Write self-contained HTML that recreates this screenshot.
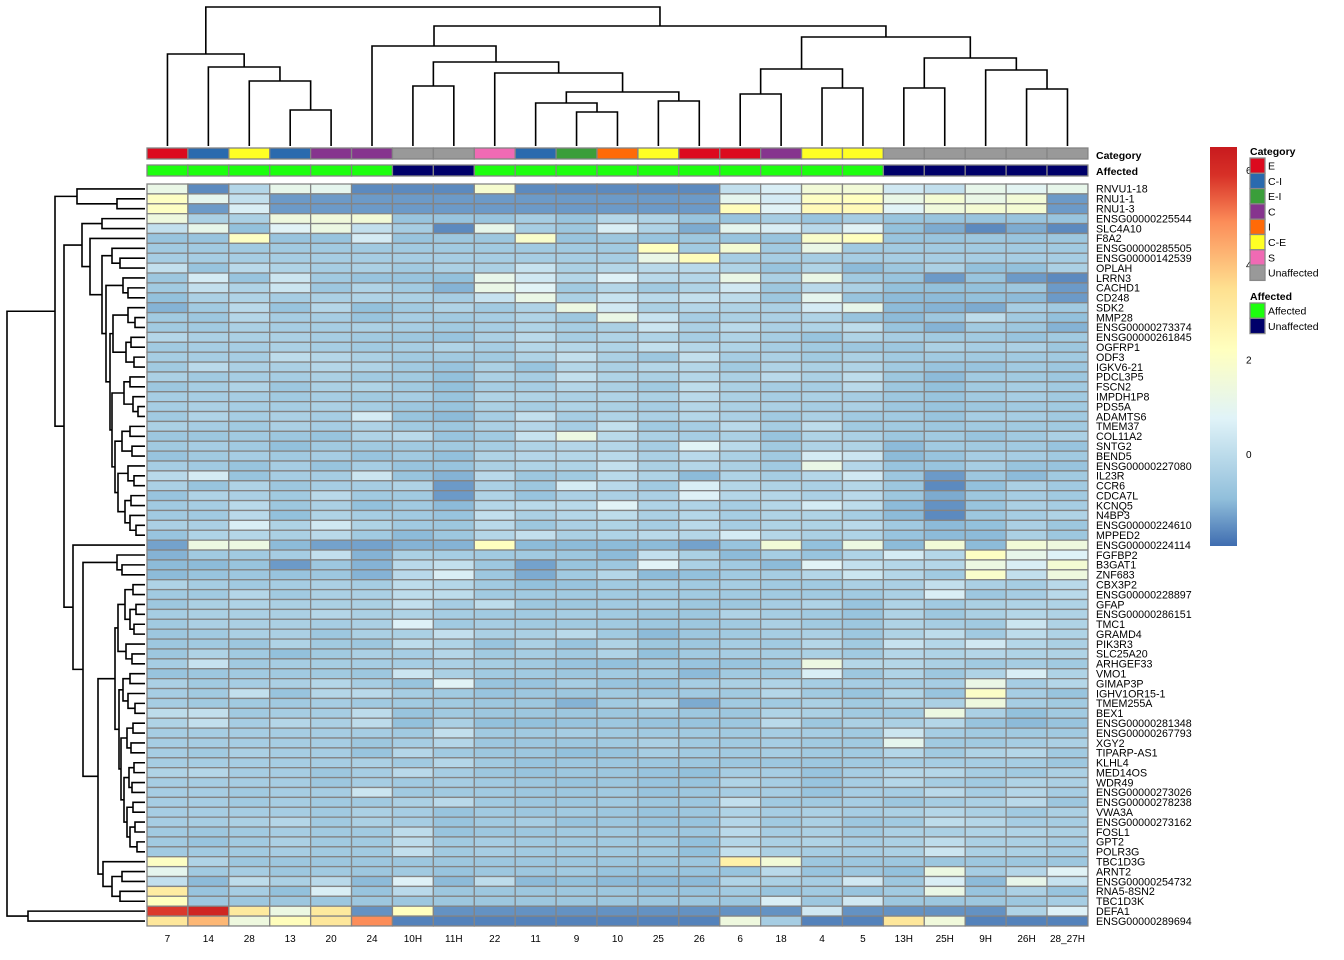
<!DOCTYPE html>
<html><head><meta charset="utf-8"><style>
body{margin:0;background:#fff;}
svg{display:block;font-family:"Liberation Sans",Arial,sans-serif;}
</style></head><body>
<svg id="chart" width="1344" height="960" viewBox="0 0 1344 960" xmlns="http://www.w3.org/2000/svg">
<g id="coldend"></g>
<g id="rowdend"></g>
<g id="annot"></g>
<g id="cells"></g>
<g id="rlabels"></g>
<g id="clabels"></g>
<g id="legend"></g>
</svg>
<script>
const samples = ["7","14","28","13","20","24","10H","11H","22","11","9","10","25","26","6","18","4","5","13H","25H","9H","26H","28_27H"];
const genes = ["RNVU1-18","RNU1-1","RNU1-3","ENSG00000225544","SLC4A10","F8A2","ENSG00000285505","ENSG00000142539","OPLAH","LRRN3","CACHD1","CD248","SDK2","MMP28","ENSG00000273374","ENSG00000261845","OGFRP1","ODF3","IGKV6-21","PDCL3P5","FSCN2","IMPDH1P8","PDS5A","ADAMTS6","TMEM37","COL11A2","SNTG2","BEND5","ENSG00000227080","IL23R","CCR6","CDCA7L","KCNQ5","N4BP3","ENSG00000224610","MPPED2","ENSG00000224114","FGFBP2","B3GAT1","ZNF683","CBX3P2","ENSG00000228897","GFAP","ENSG00000286151","TMC1","GRAMD4","PIK3R3","SLC25A20","ARHGEF33","VMO1","GIMAP3P","IGHV1OR15-1","TMEM255A","BEX1","ENSG00000281348","ENSG00000267793","XGY2","TIPARP-AS1","KLHL4","MED14OS","WDR49","ENSG00000273026","ENSG00000278238","VWA3A","ENSG00000273162","FOSL1","GPT2","POLR3G","TBC1D3G","ARNT2","ENSG00000254732","RNA5-8SN2","TBC1D3K","DEFA1","ENSG00000289694"];
const sampleCategory = ["E","C-I","C-E","C-I","C","C","Unaffected","Unaffected","S","C-I","E-I","I","C-E","E","E","C","C-E","C-E","Unaffected","Unaffected","Unaffected","Unaffected","Unaffected"];
const sampleAffected = ["Affected","Affected","Affected","Affected","Affected","Affected","Unaffected","Unaffected","Affected","Affected","Affected","Affected","Affected","Affected","Affected","Affected","Affected","Affected","Unaffected","Unaffected","Unaffected","Unaffected","Unaffected"];
const values = [
[1.2,-1.6,-0.2,1.1,1.0,-1.6,-1.6,-1.6,1.8,-1.6,-1.6,-1.6,-1.6,-1.6,0.1,0.6,1.6,1.6,0.4,0.1,1.1,0.9,1.1],
[2.1,1.0,0.1,-1.4,-1.4,-1.4,-1.4,-1.4,-1.4,-1.4,-1.4,-1.4,-1.4,-1.4,1.0,0.5,2.1,2.2,1.2,1.7,1.2,1.6,-1.4],
[2.1,-1.4,0.6,-1.4,-1.4,-1.4,-1.4,-1.4,-1.4,-1.4,-1.4,-1.4,-1.4,-1.4,2.3,0.8,2.4,2.4,0.8,1.5,1.7,1.7,-1.4],
[1.4,-0.4,-0.4,1.4,1.5,1.6,-0.8,-0.8,-0.8,-0.5,-0.8,-0.2,-0.3,-0.8,-0.8,-0.5,-0.8,-0.5,-0.8,-0.8,-0.8,-0.8,-0.8],
[0.1,1.1,-0.9,0.8,1.3,0.1,-0.5,-1.6,1.1,-0.5,-0.7,0.6,-0.3,-1.2,1.0,0.6,-0.1,0.8,-0.9,-1.2,-1.6,-1.2,-1.6],
[-0.8,-0.8,2.1,-0.8,-0.8,0.5,-0.8,-0.7,-0.7,1.9,-0.8,-0.7,-0.8,-0.7,-0.8,-0.8,1.9,2.2,-0.8,-0.8,-0.7,-0.8,-0.7],
[-0.6,-0.6,-0.6,-0.6,-0.6,-0.6,-0.6,-0.6,-0.6,-0.6,-0.6,-0.6,2.2,-0.6,1.7,-0.6,1.2,-0.6,-0.6,-0.6,-0.6,-0.6,-0.6],
[-0.5,-0.5,-0.5,-0.5,-0.5,-0.5,-0.5,-0.5,-0.5,-0.5,-0.5,-0.5,1.2,2.3,-0.5,-0.5,-0.5,-0.5,-0.5,-0.5,-0.5,-0.5,-0.5],
[0.1,-0.8,-0.1,-0.3,-0.5,-0.4,-0.6,-0.4,-0.4,0.2,-0.4,-0.2,-0.1,-0.1,-0.3,-0.8,-0.3,-1.0,-0.7,-0.4,-0.9,-0.9,-0.4],
[-0.7,0.5,-0.8,0.3,-0.6,-0.8,-0.8,-0.9,1.1,0.4,-0.2,0.7,-0.1,-0.2,1.2,-0.4,1.2,-0.6,-0.8,-1.4,-0.8,-1.4,-1.6],
[-0.6,0.1,-0.3,0.3,-0.7,-0.3,-0.6,-1.1,1.2,0.8,-0.6,-0.2,-0.6,-0.3,0.4,-0.7,-0.1,-0.4,-0.9,-0.9,-0.9,-0.7,-1.4],
[-0.9,-0.4,-0.3,-0.5,-0.4,-0.3,-0.4,-0.5,0.2,1.2,-0.4,0.2,-0.1,0.1,0.0,-0.7,1.0,-0.8,-1.0,-1.0,-0.9,-1.0,-1.4],
[-1.1,-0.6,-0.1,-0.8,-0.2,-0.9,-0.6,-0.3,-0.6,-0.3,1.3,0.4,-0.4,-0.2,-0.3,-0.4,0.5,1.1,-1.0,-1.1,-1.2,-0.5,-0.6],
[-0.6,-0.7,-0.2,-0.5,-0.5,-0.8,-0.5,-0.6,-0.5,-0.3,-0.7,1.2,0.2,-0.5,-0.4,-0.4,-0.3,-0.8,-1.0,-0.7,0.0,-0.6,-0.9],
[-0.6,-0.6,-0.4,-0.5,-0.5,-0.4,-0.5,-0.6,-0.5,-0.3,-0.5,-0.4,0.3,-0.4,-0.1,-0.4,-0.3,0.0,-0.8,-1.1,-0.6,-0.7,-1.1],
[-0.2,-0.4,-0.4,-0.4,-0.5,-0.6,-0.7,-0.8,-0.4,-0.1,-0.5,-0.3,-0.3,-0.5,-0.3,-0.5,-0.8,-0.3,-0.5,-0.6,-0.6,-0.8,-0.6],
[-0.6,-0.5,-0.5,-0.4,-0.5,-0.6,-0.5,-0.3,-0.5,-0.2,-0.2,-0.3,0.1,-0.2,-0.3,-0.5,-0.6,-0.7,-0.7,-0.4,-0.5,-0.4,-0.7],
[-0.5,-0.5,-0.5,0.0,-0.2,-0.4,-0.6,-0.6,-0.6,-0.3,0.1,-0.4,-0.7,0.1,-0.5,-0.4,-0.6,-0.4,-0.6,-0.6,-0.6,-0.6,-0.6],
[-0.6,-0.1,-0.4,-0.4,-0.2,-0.3,-0.6,-0.8,-0.4,-0.8,-0.2,-0.4,-0.2,-0.2,-0.6,-0.3,-0.4,-0.3,-0.6,-0.8,-0.8,-0.6,-0.7],
[-0.4,-0.6,-0.5,-0.5,-0.4,-0.6,-0.6,-0.9,-0.4,-0.5,0.1,-0.3,-0.4,-0.2,-0.4,-0.1,-0.4,0.0,-0.7,-1.0,-0.6,-0.6,-0.7],
[-0.7,-0.5,-0.3,-0.7,-0.4,-0.3,-0.6,-0.9,-0.5,-0.5,-0.2,-0.4,-0.6,0.0,-0.4,-0.5,-0.5,-0.1,-0.7,-0.9,-0.6,-0.5,-0.6],
[-0.5,-0.5,-0.5,-0.6,-0.5,-0.6,-0.5,-0.8,-0.3,-0.3,-0.4,-0.3,-0.4,-0.1,-0.4,-0.5,-0.4,-0.5,-0.7,-0.8,-0.6,-0.5,-0.6],
[-0.5,-0.4,-0.5,-0.5,-0.4,-0.5,-0.7,-0.8,-0.4,-0.5,-0.3,-0.4,-0.5,-0.2,-0.4,-0.4,-0.5,-0.4,-0.7,-0.8,-0.7,-0.6,-0.6],
[-0.6,-0.3,-0.5,-0.4,-0.5,0.5,-0.8,-1.0,-0.5,0.1,-0.5,-0.3,-0.4,-0.2,-0.4,-0.6,-0.4,-0.6,-0.6,-0.8,-0.5,-0.5,-0.6],
[-0.4,-0.5,-0.6,-0.4,-0.5,-0.3,-0.6,-0.7,-0.4,-0.2,-0.5,0.1,-0.6,-0.5,-0.1,-0.5,0.0,-0.6,-0.6,-0.7,-0.6,-0.6,-0.6],
[-0.7,-0.7,-0.6,-0.7,-0.8,-0.3,-0.1,-0.8,-0.6,0.2,1.3,-0.1,-0.4,-0.5,-0.4,-0.8,-0.3,-0.4,-0.7,-0.6,-0.8,-0.6,-0.4],
[-0.6,-0.5,-0.6,-0.9,-0.6,-0.6,-0.6,-0.6,-0.5,-0.3,-0.2,-0.2,-0.5,0.8,-0.1,-0.6,-0.3,-0.3,-1.0,-0.6,-0.6,-0.6,-0.8],
[-0.8,-0.6,-0.5,-0.6,-0.5,-0.8,-0.6,-0.9,-0.3,-0.2,-0.2,-0.1,-0.4,-0.1,-0.4,-0.6,0.5,0.3,-1.0,-0.8,-0.5,-0.5,-0.6],
[-0.5,-0.6,-0.8,-0.5,-0.8,-0.5,-0.8,-0.8,-0.4,-0.3,-0.3,0.1,-0.4,-0.2,-0.4,-0.6,1.2,-0.2,-0.8,-0.8,-0.5,-0.8,-0.8],
[-0.1,0.5,-0.8,-0.5,-0.5,0.3,-0.8,-1.1,-0.1,-0.7,-0.6,-0.1,-0.3,-1.0,-0.3,-0.5,-0.2,0.4,-0.7,-1.4,-0.7,-1.0,-0.6],
[-0.4,-0.8,-0.3,-0.7,-0.5,-0.5,-0.3,-1.4,-0.4,-0.7,0.5,-0.1,-0.6,0.6,-0.2,-0.3,-0.4,-0.2,-0.7,-1.6,-0.9,-0.4,-0.6],
[-0.8,-0.3,-0.4,-0.6,-0.1,-0.6,-0.6,-1.4,-0.3,-0.8,-0.4,-0.4,-0.4,0.7,-0.2,-0.2,-0.4,-0.1,-0.7,-1.2,-0.7,-0.5,-0.6],
[-0.6,-0.5,-0.1,-0.7,-0.4,-0.9,-0.6,-1.0,-0.2,-0.1,-0.1,0.8,-0.3,-0.3,-0.5,-0.2,0.5,0.0,-1.0,-1.5,-0.8,-0.4,-0.5],
[-0.6,-0.6,-0.1,-0.9,-0.3,-0.5,-0.6,-0.8,0.1,-0.4,-0.2,0.0,-0.4,-0.2,-0.5,-0.3,-0.3,-0.5,-1.0,-1.6,-0.7,-0.5,-0.3],
[-0.4,-0.4,0.6,-0.3,0.4,-0.3,-0.6,-0.7,-0.1,-0.7,-0.4,-0.3,-0.5,-0.1,-0.5,-0.3,-0.3,-0.1,-0.6,-1.0,-0.9,-0.4,-0.7],
[-0.8,-0.3,-0.2,-0.4,-0.1,-0.6,-1.0,-0.7,-0.2,0.1,-0.4,-0.3,-0.1,-0.2,0.5,-0.2,-0.4,-0.3,-0.8,-1.0,-1.0,-0.4,-0.7],
[-1.3,1.3,1.3,-1.0,-1.3,-1.3,-1.1,-1.1,2.2,-1.0,-1.0,-1.0,-1.0,-1.3,-0.8,1.6,-0.9,1.3,-1.0,1.6,-1.0,1.6,1.4],
[-1.1,-0.6,-0.6,-0.5,0.1,-1.1,-0.4,-0.5,-0.6,-0.6,-0.7,-1.0,0.1,-0.4,-1.0,-0.5,-0.8,-0.3,0.5,-0.2,2.1,1.1,0.7],
[-1.0,-1.0,-0.8,-1.4,-0.7,-1.1,-0.1,0.1,-0.7,-1.3,-0.8,-0.7,0.8,-0.4,-0.6,-1.0,0.8,0.1,-0.2,-0.2,1.3,0.6,1.7],
[-1.0,-0.8,-0.7,-0.8,-0.7,-1.1,-0.1,0.6,-0.7,-1.2,-0.6,-0.2,-1.0,-0.9,-0.6,-0.5,-0.2,0.3,-0.2,-0.6,1.9,0.1,1.4],
[-0.3,-0.5,-0.6,-0.5,-0.4,-0.5,0.0,-0.2,-0.6,-0.9,-0.8,-0.6,-0.5,-0.6,-0.5,-0.6,-0.6,-0.4,-0.4,0.1,-0.4,-0.5,-0.1],
[-0.6,-0.6,-0.2,-0.6,-0.4,-0.4,0.0,0.0,-0.6,-0.6,-0.6,-0.6,-0.6,-0.6,-0.6,-0.6,-0.6,-0.6,-0.4,0.6,-0.7,-0.5,-0.1],
[-0.7,-0.4,-0.3,-0.4,-0.4,-0.4,0.1,-0.5,0.0,-0.7,-0.7,-0.6,-0.5,-0.7,-0.7,-0.5,-0.3,-0.8,-0.3,-0.6,-0.4,-0.3,-0.3],
[-0.5,-0.4,-0.4,-0.4,-0.2,-0.4,-0.3,-0.5,-0.6,-0.6,-0.5,-0.6,-0.7,-0.7,-0.3,-0.5,-0.6,-0.8,-0.3,-0.7,-0.4,-0.2,-0.3],
[-0.6,-0.4,-0.4,-0.4,-0.5,-0.4,0.7,-0.6,-0.5,-0.6,-0.6,-0.6,-0.7,-0.7,-0.6,-0.4,-0.6,-0.7,-0.3,-0.5,-0.6,0.3,-0.3],
[-0.7,-0.6,-0.4,-0.4,-0.7,-0.4,-0.4,0.1,-0.4,-0.4,-0.1,-0.6,-1.0,-0.7,-0.6,-0.5,-0.4,-0.7,-0.3,0.0,-0.6,0.0,-0.3],
[-0.7,-0.6,-0.7,-0.3,-0.6,-0.7,0.0,-0.3,-0.8,-0.4,-0.8,-0.3,-0.7,-0.7,-0.5,-0.6,-0.2,-0.6,0.2,-0.2,0.4,-0.2,-0.4],
[-0.7,-0.3,-0.6,-0.9,-0.6,-0.4,-0.5,-0.2,-0.6,-0.5,-0.6,-0.3,-0.9,-0.6,-0.5,-0.5,-0.4,-0.6,-0.2,-0.3,-0.2,-0.3,-0.3],
[-0.5,0.2,-0.6,-0.5,-0.5,-0.5,-0.5,-0.4,-0.5,-0.6,-0.8,-0.9,-0.6,-0.8,-0.8,-0.6,1.3,-0.2,-0.2,-0.4,-0.6,-0.5,-0.6],
[-0.8,-0.7,-0.6,-0.6,-0.6,-0.7,0.3,-0.4,-0.6,-0.6,-0.7,-0.6,-0.6,-1.0,-0.6,-0.6,0.6,-0.7,-0.3,-0.7,-0.3,0.6,-0.3],
[-0.4,-0.6,-0.5,-0.4,-0.2,-0.5,-0.8,0.8,-0.8,-0.8,-0.5,-0.8,-0.8,-0.5,-0.4,-0.3,-0.5,-0.5,-0.5,-0.5,1.2,-0.5,-0.2],
[-0.5,-0.6,0.1,-0.8,-0.2,-0.1,-0.5,-0.6,-0.8,-0.7,-0.7,-0.6,-0.7,-0.6,-0.6,-0.2,-0.6,-0.8,-0.3,-0.8,2.0,-0.5,-0.8],
[-0.5,-0.6,-0.6,-0.6,-0.5,-0.6,-0.6,-0.6,-0.7,-0.7,-1.1,-0.6,-0.3,-1.2,-0.6,-0.6,-0.4,-0.6,-0.4,-0.4,1.4,-0.5,-0.6],
[0.0,0.1,-0.6,-0.5,-0.5,0.0,-0.8,-0.6,-0.7,-0.7,-0.7,-0.7,-0.6,-0.7,-0.7,-0.3,-0.4,-0.6,-0.6,1.3,-0.4,-0.9,-0.6],
[-0.3,0.1,-0.5,-0.2,-0.4,0.0,-0.9,-0.4,-0.9,-0.9,-0.8,-0.7,-0.8,-0.8,-0.7,-0.1,-0.7,-0.4,-0.4,-0.2,-0.8,-1.0,-0.8],
[-0.5,-0.5,-0.5,-0.5,-0.5,-0.5,-0.6,0.1,-0.6,-0.6,-0.5,-0.6,-0.6,-0.6,-0.6,-0.5,-0.5,-0.6,0.3,-0.5,-0.6,-0.6,-0.6],
[-0.5,-0.5,-0.5,-0.5,-0.5,-0.7,-0.5,-0.2,-0.7,-0.7,-0.7,-0.6,-0.4,-0.6,-0.6,-0.5,-0.6,-0.6,1.0,-0.6,-0.6,-0.5,-0.4],
[-0.5,-0.6,-0.4,-0.5,-0.5,-0.8,-0.2,-0.6,-0.7,-0.7,-0.9,-0.8,-0.5,-0.6,-0.6,-0.5,-0.6,-0.6,-0.2,-0.6,-0.3,-0.2,-0.6],
[-0.5,-0.5,-0.5,-0.5,-0.5,-0.4,-0.6,-0.2,-0.6,-0.8,-0.7,-0.7,-0.7,-0.7,-0.7,-0.7,-0.7,-0.6,-0.5,-0.5,-0.5,-0.5,-0.7],
[-0.3,-0.2,-0.5,-0.5,-0.7,-0.5,-0.1,-0.5,-0.7,-0.8,-0.7,-0.7,-0.8,-0.9,-0.5,-0.5,-0.8,-0.5,-0.2,-0.2,-0.5,-0.6,-0.4],
[-0.5,-0.5,-0.5,-0.5,-0.7,-0.5,-0.6,-0.5,-0.6,-0.7,-0.8,-0.7,-0.8,-0.8,-0.3,-0.5,-0.8,-0.5,-0.2,-0.5,-0.6,-0.3,-0.4],
[-0.5,-0.5,-0.6,-0.5,-0.5,0.3,-0.6,-0.6,-0.6,-0.7,-0.7,-0.6,-0.8,-0.7,-0.5,-0.5,-0.8,-0.5,-0.5,-0.1,-0.5,-0.2,-0.5],
[-0.5,-0.5,-0.6,-0.5,-0.6,-0.6,-0.4,-0.1,-0.6,-0.7,-0.7,-0.6,-0.7,-0.7,0.1,-0.6,-0.6,-0.5,-0.7,-0.5,-0.4,-0.1,-0.7],
[-0.5,-0.5,-0.5,-0.5,-0.6,-0.4,-0.5,-0.8,-0.6,-0.7,-0.6,-0.7,-0.8,-0.7,-0.3,-0.5,-0.4,-0.5,-0.4,-0.2,-0.4,-0.6,-0.4],
[-0.5,-0.5,-0.4,-0.2,-0.6,-0.4,-0.5,-0.8,-0.6,-0.5,-0.8,-0.7,-0.8,-0.8,-0.2,-0.6,-0.4,-0.7,-0.6,0.0,-0.2,-0.5,-0.5],
[-0.6,-0.7,-0.6,-0.5,-0.6,-0.6,0.0,-0.8,-0.7,-0.7,-0.6,-0.6,-0.7,-0.7,-0.1,-0.5,-0.4,-0.6,-0.4,-0.4,-0.3,-0.3,-0.4],
[-0.6,-0.8,-0.6,-0.4,-0.6,-0.6,0.0,-0.6,-0.5,-0.6,-0.6,-0.6,-0.6,-0.9,-0.2,-0.4,-0.3,-0.5,-0.4,0.0,-0.4,-0.4,-0.5],
[-0.6,-0.6,-0.6,-0.5,-0.6,-0.6,0.1,-0.6,-0.5,-0.6,-0.6,-0.6,-0.6,-0.9,0.1,-0.4,-0.5,-0.5,-0.4,0.3,-0.4,-0.4,-0.5],
[2.1,-0.3,-0.7,-0.7,-0.7,-0.7,-0.7,-0.7,-0.7,-0.7,-0.7,-0.7,-0.7,-0.7,2.8,1.6,-0.7,-0.7,-0.7,-0.7,-0.7,-0.7,-0.7],
[1.0,-0.6,-0.5,-0.7,-0.6,-0.7,-0.6,-0.8,-0.7,-0.7,-0.6,-0.8,-0.8,-0.8,-0.8,-0.1,-0.8,-0.7,-0.9,1.3,-0.5,-0.2,0.8],
[0.1,-1.0,0.0,-0.4,-0.1,-1.0,0.7,-1.0,0.0,-1.0,-0.9,-1.0,-1.0,-1.0,-0.3,-0.4,-0.5,0.4,-0.7,0.6,-1.0,1.1,0.2],
[3.0,-0.8,-0.5,-0.9,0.6,-0.8,-0.1,-0.7,-0.7,-0.7,-0.7,-0.7,-0.8,-0.8,-0.6,-0.8,-0.6,-0.8,-0.6,1.2,-0.8,-0.4,-0.8],
[2.2,-0.7,-0.7,-0.7,-0.7,-0.7,-0.7,-0.7,-0.7,-0.7,-0.7,-0.7,-0.7,-0.7,-0.7,0.6,-0.7,0.4,-0.7,-0.7,-0.7,-0.7,-0.5],
[5.8,6.2,3.1,1.3,3.1,-1.5,2.2,-1.5,-1.5,-1.5,-1.5,-1.5,-1.5,-1.5,-1.5,-1.5,0.4,-1.5,-1.5,-1.5,-1.5,-0.3,0.7],
[3.2,4.2,1.4,2.3,3.2,4.9,-1.7,-1.7,-1.7,-1.7,-1.7,-1.7,-1.7,-1.7,1.4,-0.5,-1.7,-1.7,3.2,1.5,-1.7,-1.7,-1.7]
];
const legendTicks = [6,4,2,0];
const catNames = ["E","C-I","E-I","C","I","C-E","S","Unaffected"];
const affNames = ["Affected","Unaffected"];

const NS="http://www.w3.org/2000/svg";
const catColors={"E":"#DC0A1E","C-I":"#2A6AAE","E-I":"#3A9E3A","C":"#86348E","I":"#FF6A08","C-E":"#FFFF24","S":"#F06AB4","Unaffected":"#999999"};
const affColors={"Affected":"#1CFF0E","Unaffected":"#00006A"};
const X0=147,CW=40.91,Y0=184,RH=9.893;
const VMIN=-1.95,VMAX=6.49;
const stops=["#3F6DB0","#91BFDB","#E0F3F8","#FFFFBF","#FEE090","#FC8D59","#D73027","#C81A1E"];
const stopVals=[-1.95,-0.95,0.75,2.2,3.5,4.9,5.9,6.49];
function hex(c){return [1,3,5].map(i=>parseInt(c.substr(i,2),16));}
function color(v){v=Math.max(VMIN,Math.min(VMAX,v));let i=0;while(i<stopVals.length-2&&v>stopVals[i+1])i++;
  const f=(v-stopVals[i])/(stopVals[i+1]-stopVals[i]);const a=hex(stops[i]),b=hex(stops[i+1]);
  return "rgb("+a.map((x,k)=>Math.round(x+(b[k]-x)*f)).join(",")+")";}
function xCol(j){return X0+j*CW;}
function yRow(i){return Y0+i*RH;}
function mk(tag,attrs,parent){const e=document.createElementNS(NS,tag);for(const k in attrs)e.setAttribute(k,attrs[k]);parent.appendChild(e);return e;}

const cells=document.getElementById('cells');
values.forEach((row,i)=>row.forEach((v,j)=>{
  const r=mk('rect',{x:xCol(j),y:yRow(i),width:CW,height:RH,fill:color(v),stroke:'#848484','stroke-width':1.3},cells);
  
  
}));
const annot=document.getElementById('annot');
samples.forEach((s,j)=>{
  const a=mk('rect',{x:xCol(j),y:148,width:CW,height:11,fill:catColors[sampleCategory[j]],stroke:'#848484','stroke-width':1.3},annot);
  
  
  const b=mk('rect',{x:xCol(j),y:165,width:CW,height:11,fill:affColors[sampleAffected[j]],stroke:'#848484','stroke-width':1.3},annot);
  
  
});
let t=mk('text',{x:1096,y:159,'font-size':10.5,'font-weight':'bold'},annot);t.textContent='Category';


t=mk('text',{x:1096,y:175,'font-size':10.5,'font-weight':'bold'},annot);t.textContent='Affected';


const rl=document.getElementById('rlabels');
genes.forEach((g,i)=>{const e=mk('text',{x:1096,y:yRow(i)+RH/2+3.8,'font-size':10.7},rl);e.textContent=g;
  
  });
const cl=document.getElementById('clabels');
samples.forEach((s,j)=>{const e=mk('text',{x:xCol(j)+CW/2,y:942,'font-size':10,'text-anchor':'middle'},cl);e.textContent=s;
  
  });
const colTree=[7,[54,0,[67,1,[81,2,[110,3,4]]]],[26,[46,5,[62,[86,6,7],[73,8,[92,[103,9,[112,10,11]],[101,12,13]]]]],[37,[69,[94,14,15],[88,16,17]],[58,[88,18,19],[70,20,[89,21,22]]]]]];
const cd=document.getElementById('coldend');
let cpath='';
function layC(n){if(typeof n==='number')return {x:xCol(n)+CW/2,y:146};const a=layC(n[1]),b=layC(n[2]);const y=n[0];
  cpath+=`M${a.x},${a.y}V${y}H${b.x}V${b.y}`;return {x:(a.x+b.x)/2,y:y};}
layC(colTree);
mk('path',{d:cpath,fill:'none',stroke:'#000','stroke-width':1.6},cd);
const S=[110,[113,[128,12,[135,13,14]],[126,[131,15,16],[134,17,18]]],[112,[124,[130,19,20],[133,21,[138,22,23]]],[115,[122,[130,24,25],[132,26,27]],[118,[128,28,[134,29,30]],[125,[131,31,32],[130,33,[136,34,35]]]]]]];
const V=[82,[102,3,4],[90,5,[102,[112,6,[120,7,8]],[106,[123,9,[128,10,11]],S]]]];
const Xc=[115,[118,[125,[133,40,41],[130,[136,42,43],[134,44,45]]],[126,46,[132,47,48]]],[119,[123,[130,49,50],[128,51,[135,52,53]]],[121,[127,[133,54,55],[131,56,57]],[124,[129,[134,58,59],[132,60,61]],[127,[133,62,63],[130,[135,64,65],[137,66,67]]]]]]];
const Yc=[103,68,[112,[122,69,70],[120,71,72]]];
const W=[73,36,[83,[117,37,[122,38,39]],[98,Xc,Yc]]];
const rowTree=[7,[55,[77,0,[117,1,2]],[64,V,W]],[28,73,74]];
const rd=document.getElementById('rowdend');
let rpath='';
function layR(n){if(typeof n==='number')return {x:145,y:yRow(n)+RH/2};const a=layR(n[1]),b=layR(n[2]);const x=n[0];
  rpath+=`M${a.x},${a.y}H${x}V${b.y}H${b.x}`;return {x:x,y:(a.y+b.y)/2};}
layR(rowTree);
mk('path',{d:rpath,fill:'none',stroke:'#000','stroke-width':1.6},rd);
const lg=document.getElementById('legend');
const defs=mk('defs',{},lg);
const grad=mk('linearGradient',{id:'cg',x1:0,y1:1,x2:0,y2:0},defs);
stops.forEach((c,i)=>mk('stop',{offset:(stopVals[i]-VMIN)/(VMAX-VMIN),'stop-color':c},grad));
const cb=mk('rect',{x:1210,y:147,width:27,height:399,fill:'url(#cg)'},lg);


function yLeg(v){return 546-(v-VMIN)/(VMAX-VMIN)*399;}
legendTicks.forEach(v=>{const e=mk('text',{x:1246,y:yLeg(v)+4,'font-size':10},lg);e.textContent=v;
  
  });
t=mk('text',{x:1250,y:155,'font-size':10.5,'font-weight':'bold'},lg);t.textContent='Category';


catNames.forEach((c,i)=>{const y=158+i*15.3;
  const r=mk('rect',{x:1250,y:y,width:15,height:15.3,fill:catColors[c],stroke:'#888','stroke-width':1.3},lg);
  
  
  const e=mk('text',{x:1268,y:y+11.5,'font-size':10.5},lg);e.textContent=c;
  
  });
t=mk('text',{x:1250,y:300,'font-size':10.5,'font-weight':'bold'},lg);t.textContent='Affected';


affNames.forEach((c,i)=>{const y=303+i*15.3;
  const r=mk('rect',{x:1250,y:y,width:15,height:15.3,fill:affColors[c],stroke:'#888','stroke-width':1.3},lg);
  
  
  const e=mk('text',{x:1268,y:y+11.5,'font-size':10.5},lg);e.textContent=c;
  
  });
</script>
</body></html>
